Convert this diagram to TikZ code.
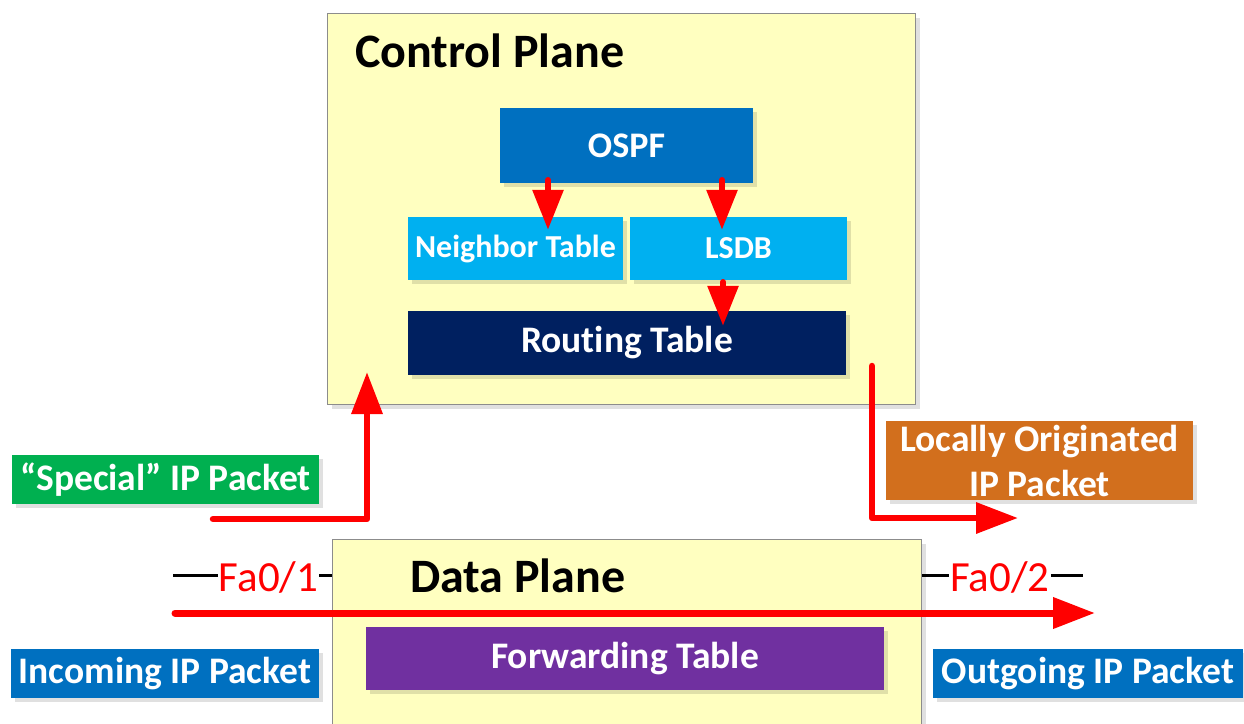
\documentclass[tikz,border=0pt]{standalone}
\usepackage{fontspec}
\setmainfont[Ligatures=NoCommon]{Carlito}
\usetikzlibrary{arrows.meta,shadows}
\definecolor{planefill}{HTML}{FFFFC0}
\definecolor{planeborder}{HTML}{8C8C8C}
\definecolor{ospfblue}{HTML}{0070C0}
\definecolor{lightblue}{HTML}{00B0F0}
\definecolor{navy}{HTML}{002060}
\definecolor{fwdpurple}{HTML}{7030A0}
\definecolor{pktgreen}{HTML}{00B050}
\definecolor{pktorange}{HTML}{D26F1D}
\definecolor{arrowred}{HTML}{FF0000}
\tikzset{
  shad/.style={drop shadow={shadow xshift=4pt,shadow yshift=-4pt,opacity=0.12,fill=black}},
  plane/.style={draw=planeborder,line width=1.2pt,fill=planefill,shad,inner sep=0pt,anchor=north west},
  box/.style={shad,inner sep=0pt,text=white,font=\bfseries\fontsize{37.5}{45}\selectfont,align=center},
  smallbox/.style={box,font=\bfseries\fontsize{32}{36}\selectfont},
  title/.style={font=\bfseries\fontsize{48}{52}\selectfont,inner sep=0pt},
  port/.style={text=arrowred,font=\fontsize{43}{46}\selectfont,inner sep=1pt},
  redarrow/.style={draw=arrowred,line width=6.5pt,line cap=round,line join=round,-{Triangle[length=42pt,width=30pt]}},
  smallarrow/.style={draw=arrowred,line width=6pt,line cap=round,-{Triangle[length=40pt,width=30pt]}},
  wire/.style={draw=black,line width=3pt}
}
\begin{document}
\begin{tikzpicture}[x=1pt,y=-1pt]
\useasboundingbox (0,0) rectangle (1244,723);
% planes
\node[plane,minimum width=588pt,minimum height=391pt] (cp) at (327,13) {};
\node[title,anchor=west] (cptitle) at (355,51) {Control Plane};
\node[plane,minimum width=589pt,minimum height=200pt] (dp) at (332,539) {};
\node[title,anchor=west] (dptitle) at (410,576) {Data Plane};
% control plane boxes
\node[box,fill=ospfblue,minimum width=253pt,minimum height=75pt,font=\bfseries\fontsize{36}{40}\selectfont] (ospf) at (626.5,145.5) {OSPF};
\node[smallbox,fill=lightblue,minimum width=215pt,minimum height=63pt] (nbr) at (515.5,248.5) {Neighbor Table};
\node[smallbox,fill=lightblue,minimum width=217pt,minimum height=63pt] (lsdb) at (738.5,248.5) {LSDB};
\node[box,fill=navy,minimum width=438pt,minimum height=64pt] (rt) at (627,343) {Rout\kern0pt ing Table};
% data plane box
\node[box,fill=fwdpurple,minimum width=518pt,minimum height=63pt] (fwd) at (625,658.5) {Forwarding Table};
% packet labels
\node[box,fill=pktgreen,minimum width=307pt,minimum height=49pt] (special) at (165.5,479.5) {“Special” IP Packet};
\node[box,fill=pktorange,minimum width=307pt,minimum height=79pt] (local) at (1039.5,460.5) {Locally Originated\\IP Packet};
\node[box,fill=ospfblue,minimum width=308pt,minimum height=49pt] (incoming) at (165,673.5) {Incoming IP Packet};
\node[box,fill=ospfblue,minimum width=310pt,minimum height=49pt] (outgoing) at (1088,673.5) {Outgoing IP Packet};
% ports
\node[port] (fa1) at (268.5,577) {Fa0/1};
\node[port] (fa2) at (1000,577) {Fa0/2};
\coordinate (w1) at (173,575);
\coordinate (w2) at (1083,575);
\draw[wire] (w1) -- (w1 -| fa1.west);
\draw[wire] (fa1.east |- w1) -- (w1 -| dp.west);
\draw[wire] (dp.east |- w2) -- (w2 -| fa2.west);
\draw[wire] (fa2.east |- w2) -- (w2);
% OSPF arrows
\coordinate (a1) at (548,180);
\coordinate (a2) at (722,180);
\coordinate (a3) at (723,282);
\draw[smallarrow] (a1) -- (a1 |- nbr.north) -- ++(0,13);
\draw[smallarrow] (a2) -- (a2 |- lsdb.north) -- ++(0,13);
\draw[smallarrow] (a3) -- (a3 |- rt.north) -- ++(0,15);
% special packet path
\coordinate (s0) at (213,519);
\coordinate (s1) at (367,519);
\coordinate (s2) at (367,372);
\draw[redarrow] (s0) -- (s1) -- (s2);
% locally originated path
\coordinate (l0) at (872,366);
\coordinate (l1) at (872,518);
\coordinate (l2) at (1018,518);
\draw[redarrow] (l0) -- (l1) -- (l2);
% transit path
\coordinate (t0) at (175,613);
\coordinate (t1) at (1095,613);
\draw[redarrow,line width=7pt] (t0) -- (t1);
\end{tikzpicture}
\end{document}
